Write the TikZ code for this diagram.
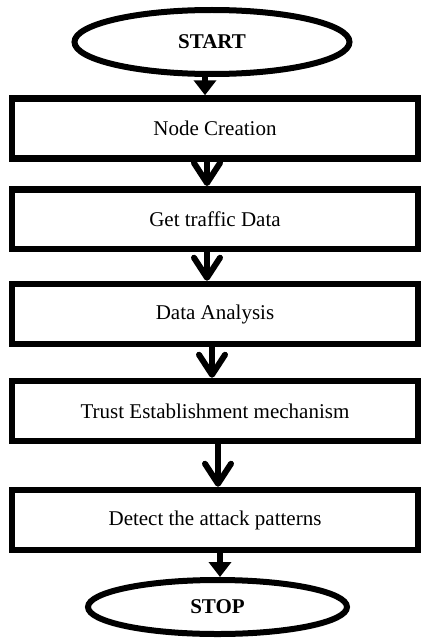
\documentclass[tikz,border=0pt]{standalone}
\usepackage{fontspec}
\setmainfont{Liberation Serif}
\usetikzlibrary{arrows.meta,shapes.geometric}

\tikzset{
  stepbox/.style={draw, line width=6.5pt, minimum width=406pt, minimum height=60pt,
    inner sep=0pt, font=\fontsize{21}{25}\selectfont},
  endpoint/.style={draw, ellipse, line width=6pt, inner sep=0pt,
    font=\fontsize{21}{25}\selectfont\bfseries},
  solidarrow/.style={line width=6pt, -{Triangle[length=15pt,width=22pt]}},
  openarrow/.style={line width=6pt, -{Straight Barb[length=20pt,width=26pt,round]}}
}

\begin{document}
\begin{tikzpicture}[x=1pt,y=-1pt]
  \useasboundingbox (0,0) rectangle (430,642);

  \node[endpoint, minimum width=275pt, minimum height=64pt] (start) at (212,42) {START};

  \node[stepbox] (create) at (215,128.5) {Node Creation};
  \node[stepbox, minimum height=59.5pt] (traffic) at (215,219) {Get traffic Data};
  \node[stepbox] (analysis) at (215,314) {Data Analysis};
  \node[stepbox] (trust) at (215,411) {Trust Establishment mechanism};
  \node[stepbox] (detect) at (215,520) {Detect the attack patterns};

  \node[endpoint, minimum width=259pt, minimum height=54pt] (stop) at (217.5,607) {STOP};

  \draw[solidarrow] ([xshift=-7pt]start.south) -- ([xshift=-10pt]create.north);
  \draw[openarrow] ([xshift=-8pt]create.south) -- ([xshift=-8pt]traffic.north);
  \draw[openarrow] ([xshift=-8pt]traffic.south) -- ([xshift=-8pt]analysis.north);
  \draw[openarrow] ([xshift=-3pt]analysis.south) -- ([xshift=-3pt]trust.north);
  \draw[openarrow] ([xshift=3pt]trust.south) -- ([xshift=3pt]detect.north);
  \draw[solidarrow] ([xshift=5pt]detect.south) -- ([xshift=2.5pt]stop.north);
\end{tikzpicture}
\end{document}
